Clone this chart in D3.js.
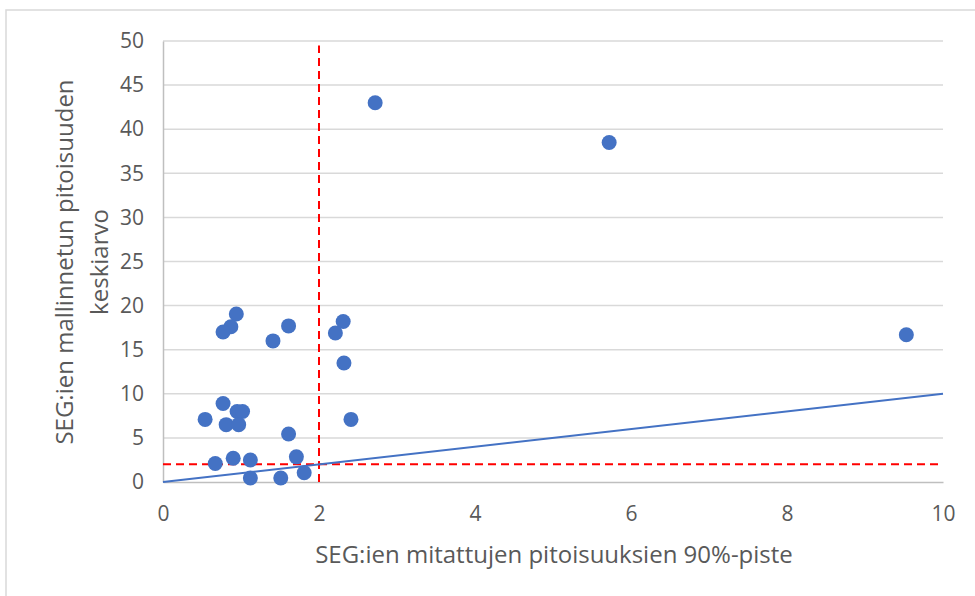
<!DOCTYPE html>
<html>
<head>
<meta charset="utf-8">
<script src="https://cdn.jsdelivr.net/npm/d3@7"></script>
<style>
  body { margin: 0; background: #fff; }
  svg text { font-family: "Open Sans", "Noto Sans", sans-serif; fill: #595959; }
</style>
</head>
<body>
<svg id="chart" width="975" height="596"></svg>
<script>
// measured 90th percentile (x) vs modelled mean (y) per SEG
var xVals = [0.94, 0.87, 0.77, 1.41, 1.61, 2.31, 2.21, 2.32, 2.41, 0.77, 0.54, 0.95, 1.02,
             0.81, 0.97, 1.61, 0.90, 0.67, 1.12, 1.71, 1.81, 1.12, 1.51, 2.72, 5.72, 9.53];
var yVals = [19.05, 17.6, 17.0, 16.0, 17.7, 18.2, 16.9, 13.5, 7.1, 8.9, 7.1, 8.0, 8.0,
             6.5, 6.5, 5.45, 2.7, 2.1, 2.5, 2.85, 1.05, 0.45, 0.45, 43.0, 38.5, 16.7];
var xTicks = [0, 2, 4, 6, 8, 10];
var yTicks = [0, 5, 10, 15, 20, 25, 30, 35, 40, 45, 50];
var limit = 2;            // red dashed limit lines
var refLine = [0, 10];    // y = x line

var margin = {top: 41, right: 32, bottom: 114, left: 163},
    width = 975 - margin.left - margin.right,
    height = 596 - margin.top - margin.bottom;

var svg = d3.select("#chart");

// outer frame
svg.append("rect")
    .attr("x", 6).attr("y", 10)
    .attr("width", 975).attr("height", 600)
    .attr("fill", "none")
    .attr("stroke", "#d9d9d9")
    .attr("stroke-width", 1.5);

var g = svg.append("g")
    .attr("transform", "translate(" + margin.left + "," + margin.top + ")");

var x = d3.scaleLinear().domain([0, 10]).range([0, width]);
var y = d3.scaleLinear().domain([0, 50]).range([height, 0]);

// gridlines
g.append("g")
  .selectAll("line")
  .data(yTicks.slice(1))
  .enter().append("line")
    .attr("x1", 0).attr("x2", width)
    .attr("y1", function(d) { return y(d); })
    .attr("y2", function(d) { return y(d); })
    .attr("stroke", "#d9d9d9")
    .attr("stroke-width", 1.5);

var yAxis = d3.axisLeft(y).tickValues(yTicks).tickSize(0).tickPadding(19);
var xAxis = d3.axisBottom(x).tickValues(xTicks).tickSize(0).tickPadding(24);

g.append("g")
    .attr("class", "y axis")
    .call(yAxis)
    .call(function(s) {
      s.select(".domain").attr("stroke", "#bfbfbf").attr("stroke-width", 1.5);
      s.selectAll("text").style("font-size", "21px").attr("fill", "#595959");
    });

g.append("g")
    .attr("class", "x axis")
    .attr("transform", "translate(0," + height + ")")
    .call(xAxis)
    .call(function(s) {
      s.select(".domain").attr("stroke", "#bfbfbf").attr("stroke-width", 1.5);
      s.selectAll("text").style("font-size", "21px").attr("fill", "#595959");
    });

// red dashed limits
g.append("line")
    .attr("x1", x(0)).attr("x2", x(10))
    .attr("y1", y(limit)).attr("y2", y(limit))
    .attr("stroke", "#ff0000").attr("stroke-width", 2)
    .attr("stroke-dasharray", "8,5");

g.append("line")
    .attr("x1", x(limit)).attr("x2", x(limit))
    .attr("y1", y(0)).attr("y2", y(49.5))
    .attr("stroke", "#ff0000").attr("stroke-width", 2)
    .attr("stroke-dasharray", "8,5");

// y = x reference
g.append("line")
    .attr("x1", x(refLine[0])).attr("y1", y(refLine[0]))
    .attr("x2", x(refLine[1])).attr("y2", y(refLine[1]))
    .attr("stroke", "#4472c4").attr("stroke-width", 2);

// points
g.selectAll("circle.pt")
    .data(xVals)
  .enter().append("circle")
    .attr("class", "pt")
    .attr("cx", function(d) { return x(d); })
    .attr("cy", function(d, i) { return y(yVals[i]); })
    .attr("r", 7.5)
    .attr("fill", "#4472c4");

// axis titles
svg.append("text")
    .attr("x", 554)
    .attr("y", 563)
    .attr("text-anchor", "middle")
    .style("font-size", "24px")
    .text("SEG:ien mitattujen pitoisuuksien 90%-piste");

var yt = svg.append("text")
    .attr("transform", "translate(73," + 262 + ") rotate(-90)")
    .attr("text-anchor", "middle")
    .style("font-size", "24px");
yt.append("tspan").attr("x", 0).attr("dy", 0).text("SEG:ien mallinnetun pitoisuuden");
yt.append("tspan").attr("x", 0).attr("dy", 35).text("keskiarvo");
</script>
</body>
</html>
